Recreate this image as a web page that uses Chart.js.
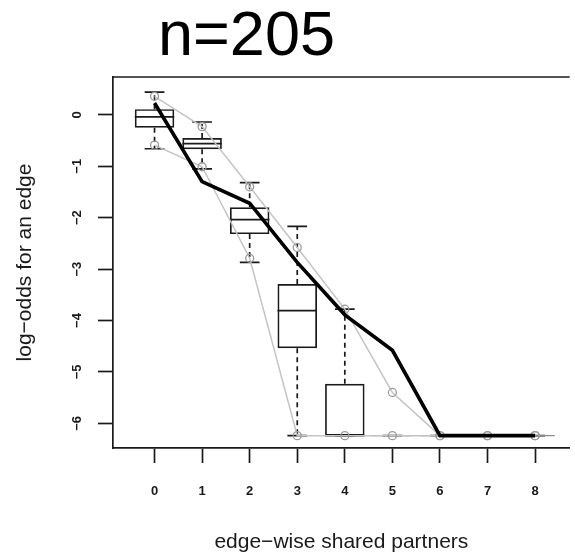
<!DOCTYPE html>
<html>
<head>
<meta charset="utf-8">
<script src="https://cdn.jsdelivr.net/npm/chart.js@4/dist/chart.umd.min.js"></script>
<style>
  html, body { margin: 0; padding: 0; background: #fff; overflow: hidden; }
  canvas { display: block; }
</style>
</head>
<body>
<canvas id="gof" width="575" height="556"></canvas>
<script>
// Goodness-of-fit: edge-wise shared partners, simulated vs observed network
const titleText = 'n=205';
const sharedPartners = [0, 1, 2, 3, 4, 5, 6, 7, 8];
const xTicks = [0, 1, 2, 3, 4, 5, 6, 7, 8];
const yTicks = [0, -1, -2, -3, -4, -5, -6];
const yTickLabels = ['0', '\u22121', '\u22122', '\u22123', '\u22124', '\u22125', '\u22126'];

// simulated distribution (boxplot statistics), log-odds scale
const boxUpperWhisker = [0.44, -0.14, -1.32, -2.17, -3.78, -6.24, -6.24, -6.24, -6.24];
const boxQ3           = [0.11, -0.45, -1.80, -3.29, -5.23, -6.24, -6.24, -6.24, -6.24];
const boxMedian       = [-0.04, -0.56, -2.04, -3.81, -6.24, -6.24, -6.24, -6.24, -6.24];
const boxQ1           = [-0.25, -0.67, -2.32, -4.54, -6.24, -6.24, -6.24, -6.24, -6.24];
const boxLowerWhisker = [-0.66, -1.05, -2.87, -6.24, -6.24, -6.24, -6.24, -6.24, -6.24];

// simulation quantile bands
const simUpper = [0.36, -0.23, -1.40, -2.58, -3.78, -5.40, -6.24, -6.24, -6.24];
const simLower = [-0.59, -1.01, -2.79, -6.24, -6.24, -6.24, -6.24, -6.24, -6.24];

// observed network
const observed = [0.23, -1.30, -1.72, -2.87, -3.89, -4.58, -6.24, -6.24, -6.24];

const BOX_FRACTION = 0.83;          // box width as a share of one x unit
const FONT = '"Liberation Sans", Arial, Helvetica, sans-serif';
const INK = '#1a1a1a';
const STROKE = 1.7;

const pts = vals => sharedPartners.map((x, i) => ({ x, y: vals[i] }));

// whiskers, caps and medians drawn with the chart's own scales
const boxExtras = {
  id: 'boxExtras',
  beforeDatasetsDraw(chart) {
    const { ctx, scales: { x, y } } = chart;
    const unit = x.getPixelForValue(1) - x.getPixelForValue(0);
    const half = unit * BOX_FRACTION / 2;
    const capHalf = half / 2;
    ctx.save();
    ctx.strokeStyle = INK;
    ctx.lineWidth = STROKE;
    sharedPartners.forEach((v, i) => {
      const cx = x.getPixelForValue(v);
      const yUW = y.getPixelForValue(boxUpperWhisker[i]);
      const yQ3 = y.getPixelForValue(boxQ3[i]);
      const yMed = y.getPixelForValue(boxMedian[i]);
      const yQ1 = y.getPixelForValue(boxQ1[i]);
      const yLW = y.getPixelForValue(boxLowerWhisker[i]);
      const flat = boxQ3[i] === boxQ1[i];
      // dashed whiskers
      ctx.setLineDash([5, 4]);
      ctx.beginPath();
      if (yUW < yQ3) { ctx.moveTo(cx, yQ3); ctx.lineTo(cx, yUW); }
      if (yLW > yQ1) { ctx.moveTo(cx, yQ1); ctx.lineTo(cx, yLW); }
      ctx.stroke();
      ctx.setLineDash([]);
      // caps
      ctx.beginPath();
      ctx.moveTo(cx - capHalf, yUW); ctx.lineTo(cx + capHalf, yUW);
      ctx.moveTo(cx - capHalf, yLW); ctx.lineTo(cx + capHalf, yLW);
      ctx.stroke();
      // median (a collapsed box shows as a single faint line)
      ctx.save();
      if (flat) { ctx.strokeStyle = '#8a8a8a'; ctx.lineWidth = 1.2; }
      ctx.beginPath();
      ctx.moveTo(cx - half, yMed); ctx.lineTo(cx + half, yMed);
      ctx.stroke();
      ctx.restore();
    });
    // plot frame, top edge
    const a = chart.chartArea;
    ctx.beginPath();
    ctx.moveTo(a.left, a.top); ctx.lineTo(a.right, a.top);
    ctx.stroke();
    ctx.restore();
  }
};

const headline = {
  id: 'headline',
  afterDraw(chart) {
    const ctx = chart.ctx;
    ctx.save();
    ctx.font = '63px ' + FONT;
    ctx.fillStyle = '#000';
    ctx.textAlign = 'center';
    ctx.textBaseline = 'alphabetic';
    ctx.fillText(titleText, 246.5, 55);
    ctx.restore();
  }
};

new Chart(document.getElementById('gof'), {
  type: 'bar',
  data: {
    datasets: [
      {
        type: 'line',
        label: 'observed',
        data: pts(observed),
        borderColor: '#000',
        borderWidth: 3.6,
        pointRadius: 0,
        fill: false,
        tension: 0,
        order: 0
      },
      {
        type: 'line',
        label: 'upper',
        data: pts(simUpper),
        borderColor: '#c4c4c4',
        borderWidth: 1.5,
        pointRadius: 4,
        pointBorderColor: '#9a9a9a',
        pointBackgroundColor: 'rgba(0,0,0,0)',
        pointBorderWidth: 1.3,
        fill: false,
        tension: 0,
        order: 1
      },
      {
        type: 'line',
        label: 'lower',
        data: pts(simLower),
        borderColor: '#c4c4c4',
        borderWidth: 1.5,
        pointRadius: 4,
        pointBorderColor: '#9a9a9a',
        pointBackgroundColor: 'rgba(0,0,0,0)',
        pointBorderWidth: 1.3,
        fill: false,
        tension: 0,
        order: 1
      },
      {
        type: 'bar',
        label: 'simulated',
        data: sharedPartners.map((x, i) => ({ x, y: [boxQ1[i], boxQ3[i]] })),
        backgroundColor: 'rgba(0,0,0,0)',
        borderColor: INK,
        borderWidth: STROKE,
        borderSkipped: false,
        categoryPercentage: 1,
        barPercentage: BOX_FRACTION,
        grouped: false,
        order: 2
      }
    ]
  },
  options: {
    responsive: false,
    animation: false,
    devicePixelRatio: 1,
    layout: { padding: { top: 77, left: 0, right: 0, bottom: 0 } },
    plugins: { legend: { display: false }, tooltip: { enabled: false } },
    scales: {
      x: {
        type: 'linear',
        min: -0.873,
        max: 8.727,
        offset: false,
        afterBuildTicks: s => { s.ticks = xTicks.map(v => ({ value: v })); },
        afterFit: s => { s.height = 108; },
        grid: { display: true, drawOnChartArea: false, drawTicks: true, tickLength: 15, tickWidth: STROKE, tickColor: INK, offset: false },
        border: { display: true, color: INK, width: STROKE },
        ticks: {
          autoSkip: false, maxRotation: 0, minRotation: 0, padding: 21,
          color: INK, font: { family: FONT, size: 13, weight: 'bold' },
          callback: v => String(v)
        },
        title: {
          display: true, text: 'edge\u2212wise shared partners', color: INK,
          font: { family: FONT, size: 21 }, padding: { top: 0, bottom: 1.5 }
        }
      },
      y: {
        type: 'linear',
        min: -6.48,
        max: 0.735,
        afterBuildTicks: s => { s.ticks = yTicks.map(v => ({ value: v })); },
        afterFit: s => { s.width = 113; },
        grid: { display: true, drawOnChartArea: false, drawTicks: true, tickLength: 15, tickWidth: STROKE, tickColor: INK },
        border: { display: true, color: INK, width: STROKE },
        ticks: {
          autoSkip: false, minRotation: 90, maxRotation: 90, crossAlign: 'center', padding: 13,
          color: INK, font: { family: FONT, size: 13, weight: 'bold' },
          callback: v => yTickLabels[yTicks.indexOf(v)]
        },
        title: {
          display: true, text: 'log\u2212odds for an edge', color: INK,
          font: { family: FONT, size: 21 }, padding: { top: 13, bottom: 0 }
        }
      }
    }
  },
  plugins: [boxExtras, headline]
});
</script>
</body>
</html>
